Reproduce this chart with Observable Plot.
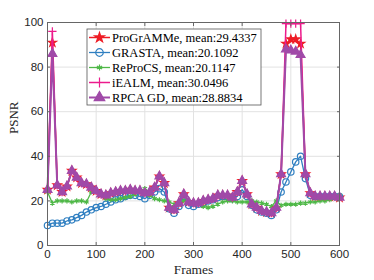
<!DOCTYPE html>
<html><head><meta charset="utf-8">
<script src="https://cdn.jsdelivr.net/npm/d3@7"></script>
<script src="https://cdn.jsdelivr.net/npm/@observablehq/plot@0.6"></script>
<style>
html,body{margin:0;padding:0;background:#fff;}
#chart{position:relative;width:374px;height:280px;}
</style></head>
<body><div id="chart"></div>
<script>
const frames = [0,10,20,30,40,50,60,70,80,90,100,110,120,130,140,150,160,170,180,190,200,210,220,230,240,250,260,270,280,290,300,310,320,330,340,350,360,370,380,390,400,410,420,430,440,450,460,470,480,490,500,510,520,530,540,550,560,570,580,590,600];

const rpcagd = [25,86,27,24,26.5,33.5,30.5,28,27.5,26,24.5,23,22.5,23.5,24,24.5,24.5,25,24.5,24.5,23.5,24,26,31,28,17,16,19,23,19.5,19,19,20,20.5,21,22.5,22.5,22.5,21.5,24,29,23,18.5,17,15.5,15,14.5,17,32,88,87.5,87,85.5,32,23.5,22,22,22,22,22,21.5];
const programme = [25,91,27,24,26.5,33.5,30.5,28,27.5,26,24.5,23,22.5,23.5,24,24.5,24.5,25,24.5,24.5,23.5,24,26,31,28,17,16,19,23,19.5,19,19,20,20.5,21,22.5,22.5,22.5,21.5,24,29,23,18.5,17,15.5,15,14.5,17,32,90.5,92.5,92.5,90.5,32,23.5,22,22,22,22,22,21.5];
const iealm = [25,96,27,24,26.5,33.5,30.5,28,27.5,26,24.5,23,22.5,23.5,24,24.5,24.5,25,24.5,24.5,23.5,24,26,31,28,17,16,19,23,19.5,19,19,20,20.5,21,22.5,22.5,22.5,21.5,24,29,23,18.5,17,15.5,15,14.5,17,32,99.5,99.5,99.5,99.5,32,23.5,22,22,22,22,22,21.5];
const grasta = [9,10,10,10,11,11.5,12.5,13.5,15,16,17,17.5,18.5,19.5,20.5,21,22,22.5,22.5,22,21,22.5,24,25.5,24,16.5,14.5,17.5,22,18,17.5,18.5,19,20,20.5,21.5,22,22,21,22,25,22,18,16,15,14.5,13.5,16,24,28.5,33,37.5,40,30,22.5,22,22,22,22,22,22];
const reprocs = [24,19,20,20,20,19.5,20,20,19.5,24,24,23,21,20.5,20.5,21,21.5,22,23,24,25.5,22.5,21,20.5,20,19.5,18.5,19,20,19.5,19,18.5,17.5,17,17.5,18.5,19.5,20,20,19.5,19.5,19.5,20,19.5,19,18.5,17.5,20,18,18.5,18.5,18.5,19,19,19.5,19.5,20,20,20.5,21.5,22.5];

const seriesNames = ["ProGrAMMe, mean:29.4337","GRASTA, mean:20.1092","ReProCS, mean:20.1147","iEALM, mean:30.0496","RPCA GD, mean:28.8834"];
const xTicks = [0,100,200,300,400,500,600];
const yTicks = [0,20,40,60,80,100];

const styles = [
  {vals: programme, color:"#ee1c25", symbol:"star", fill:true, r:2.6, sw:1.5},
  {vals: grasta, color:"#2f7fc1", symbol:"circle", fill:false, r:3.2, sw:1.3},
  {vals: reprocs, color:"#4fb848", symbol:"asterisk", fill:false, r:2.4, sw:1.3},
  {vals: iealm, color:"#ec1b8c", symbol:"plus", fill:false, r:2.8, sw:1.5},
  {vals: rpcagd, color:"#a04aa8", symbol:"triangle", fill:true, r:3.3, sw:2}
];

const marks = [
  Plot.gridX(xTicks, {stroke:"#e2e2e2", strokeOpacity:1}),
  Plot.gridY(yTicks, {stroke:"#e2e2e2", strokeOpacity:1}),
];
styles.forEach((s, i) => {
  const data = frames.map((f, j) => ({x: f, y: s.vals[j]}));
  marks.push(Plot.line(data, {x:"x", y:"y", stroke:s.color, strokeWidth:s.sw}));
  marks.push(Plot.dot(data, {x:"x", y:"y", symbol:s.symbol, r:s.r, stroke:s.color, fill: s.fill ? s.color : "none", strokeWidth:1.2}));
});
marks.push(
  Plot.frame({stroke:"#666", strokeWidth:1}),
  Plot.axisX(xTicks, {anchor:"bottom", tickSize:-3, tickPadding:7, stroke:"#666", fontSize:11.5, fontFamily:"Liberation Sans", fill:"#262626", label:null}),
  Plot.axisX(xTicks, {anchor:"top", tickSize:-3, tickFormat:() => "", stroke:"#666", label:null}),
  Plot.axisY(yTicks, {anchor:"left", tickSize:-3, tickPadding:7, stroke:"#666", fontSize:11.5, fontFamily:"Liberation Sans", fill:"#262626", label:null}),
  Plot.axisY(yTicks, {anchor:"right", tickSize:-3, tickFormat:() => "", stroke:"#666", label:null}),
  Plot.text(["Frames"], {frameAnchor:"bottom", dy:28, fontSize:13.5, fontFamily:"Liberation Serif", fill:"#262626"}),
  Plot.text(["PSNR"], {frameAnchor:"left", dx:-34, rotate:-90, fontSize:13, fontFamily:"Liberation Serif", fill:"#262626"})
);

const chart = Plot.plot({
  width:374, height:280,
  marginLeft:47, marginRight:35, marginTop:22, marginBottom:35,
  x:{domain:[0,600]},
  y:{domain:[0,100]},
  style:{background:"#fff", overflow:"visible"},
  marks
});

// Legend
const svg = d3.select(chart);
const lg = svg.append("g").attr("transform","translate(87,29)").attr("text-anchor","start");
lg.append("rect").attr("width",174).attr("height",76).attr("fill","#fff").attr("stroke","#555").attr("stroke-width",0.8);
const symMap = {star:d3.symbolStar, circle:d3.symbolCircle, asterisk:d3.symbolAsterisk, plus:d3.symbolPlus, triangle:d3.symbolTriangle};
styles.forEach((s, i) => {
  const cy = 8.5 + i*15;
  const row = lg.append("g").attr("transform",`translate(0,${cy})`);
  row.append("line").attr("x1",2).attr("x2",23).attr("y1",0).attr("y2",0).attr("stroke",s.color).attr("stroke-width",s.sw);
  row.append("path").attr("transform","translate(12.5,0)")
    .attr("d", d3.symbol(symMap[s.symbol], Math.PI*s.r*s.r*1.4)())
    .attr("stroke",s.color).attr("fill", s.fill ? s.color : "none").attr("stroke-width",1.2);
  row.append("text").attr("x",25).attr("y",0).attr("dy","0.35em").attr("text-anchor","start")
    .attr("font-family","Liberation Serif").attr("font-size",12.5).attr("fill","#000")
    .text(seriesNames[i]);
});

document.getElementById("chart").appendChild(chart);
</script></body></html>
